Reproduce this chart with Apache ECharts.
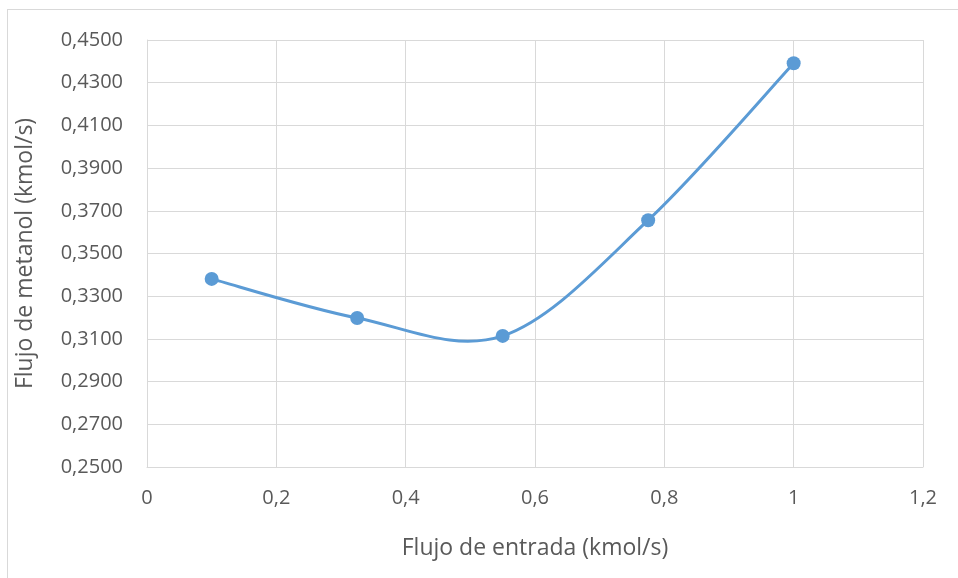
<!DOCTYPE html>
<html>
<head>
<meta charset="utf-8">
<script src="https://cdn.jsdelivr.net/npm/echarts@6/dist/echarts.min.js"></script>
<style>
  html, body { margin: 0; padding: 0; background: #fff; }
  #frame { position: absolute; left: 7px; top: 9px; width: 1000px; height: 1000px; border: 1px solid #d9d9d9; box-sizing: border-box; }
  #chart { position: absolute; left: 0; top: 0; width: 958px; height: 578px; }
</style>
</head>
<body>
<div id="frame"></div>
<div id="chart"></div>
<script>
// Flujo de entrada (kmol/s) vs flujo de metanol (kmol/s)
var flujoEntrada = [0.1, 0.325, 0.55, 0.775, 1.0];
var flujoMetanol = [0.3381, 0.3198, 0.3114, 0.3656, 0.4391];

var xAxisName = 'Flujo de entrada (kmol/s)';
var yAxisName = 'Flujo de metanol (kmol/s)';

var textColor = '#595959';
var gridColor = '#d9d9d9';
var lineColor = '#5b9bd5';
var fontFamily = '"Open Sans", "Liberation Sans", sans-serif';

function comma(v, digits) {
    return v.toFixed(digits).replace('.', ',');
}

var points = flujoEntrada.map(function (x, i) { return [x, flujoMetanol[i]]; });

/**
 * Draw segment i -> i+1 as a cubic bezier (Excel-like smoothed line).
 */
function renderSegment(params, api) {
    var i = params.dataIndex;
    var n = points.length;
    if (i >= n - 1) return null;
    var p = [];
    for (var k = -1; k <= 2; k++) {
        var j = Math.min(Math.max(i + k, 0), n - 1);
        p.push(api.coord(points[j]));
    }
    var cp1 = [p[1][0] + (p[2][0] - p[0][0]) / 6, p[1][1] + (p[2][1] - p[0][1]) / 6];
    var cp2 = [p[2][0] - (p[3][0] - p[1][0]) / 6, p[2][1] - (p[3][1] - p[1][1]) / 6];
    return {
        type: 'bezierCurve',
        shape: {
            x1: p[1][0], y1: p[1][1],
            cpx1: cp1[0], cpy1: cp1[1],
            cpx2: cp2[0], cpy2: cp2[1],
            x2: p[2][0], y2: p[2][1]
        },
        style: { stroke: lineColor, lineWidth: 3, fill: null }
    };
}

var chart = echarts.init(document.getElementById('chart'));
chart.setOption({
    animation: false,
    textStyle: { fontFamily: fontFamily },
    grid: { left: 147, right: 35, top: 40, bottom: 111, containLabel: false },
    xAxis: {
        type: 'value',
        min: 0,
        max: 1.2,
        interval: 0.2,
        name: xAxisName,
        nameLocation: 'middle',
        nameGap: 70,
        nameTextStyle: { color: textColor, fontSize: 23, fontFamily: fontFamily },
        axisLine: { show: true, lineStyle: { color: gridColor, width: 1 } },
        axisTick: { show: false },
        axisLabel: {
            color: textColor,
            fontSize: 20,
            margin: 21,
            formatter: function (v) { return v === 0 ? '0' : comma(v, 1).replace(/,0$/, ''); }
        },
        splitLine: { show: true, lineStyle: { color: gridColor, width: 1 } }
    },
    yAxis: {
        type: 'value',
        min: 0.25,
        max: 0.45,
        interval: 0.02,
        name: yAxisName,
        nameLocation: 'middle',
        nameGap: 110,
        nameTextStyle: { color: textColor, fontSize: 23, fontFamily: fontFamily },
        axisLine: { show: true, lineStyle: { color: gridColor, width: 1 } },
        axisTick: { show: false },
        axisLabel: {
            color: textColor,
            fontSize: 20,
            margin: 24,
            formatter: function (v) { return comma(v, 4); }
        },
        splitLine: { show: true, lineStyle: { color: gridColor, width: 1 } }
    },
    series: [{
        type: 'custom',
        data: points,
        renderItem: renderSegment,
        silent: true,
        z: 2
    }, {
        type: 'scatter',
        data: points,
        symbol: 'circle',
        symbolSize: 14,
        itemStyle: { color: lineColor, opacity: 1 },
        z: 3
    }]
});
</script>
</body>
</html>
